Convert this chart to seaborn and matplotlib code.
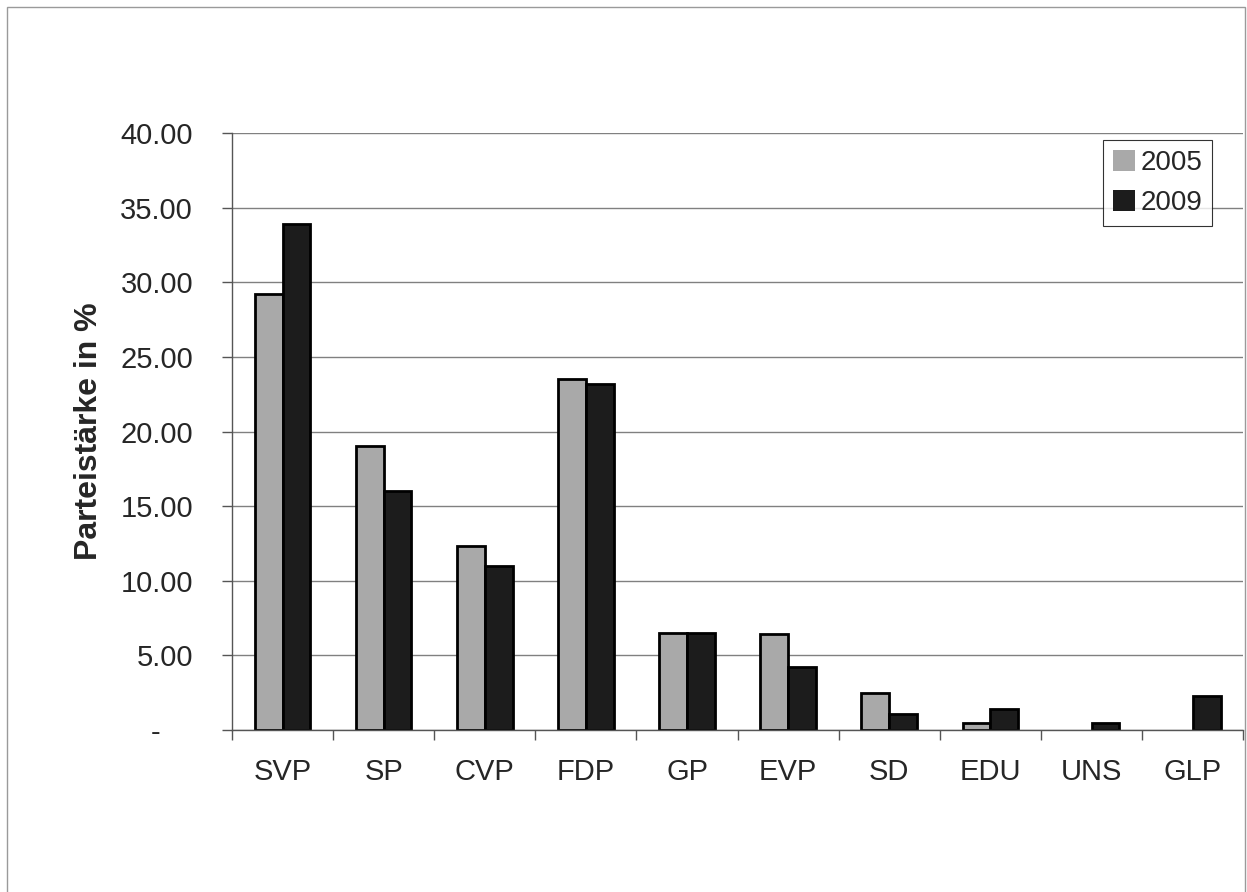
import pandas as pd
import seaborn as sns
import matplotlib.pyplot as plt
from matplotlib.patches import Rectangle
from matplotlib.ticker import FixedLocator, FuncFormatter

# Party strengths (in %)
parties = ["SVP", "SP", "CVP", "FDP", "GP", "EVP", "SD", "EDU", "UNS", "GLP"]
years = ["2005", "2009"]
share_2005 = [29.2, 19.0, 12.3, 23.5, 6.5, 6.4, 2.5, 0.5, 0.0, 0.0]
share_2009 = [33.9, 16.0, 11.0, 23.2, 6.5, 4.2, 1.1, 1.4, 0.5, 2.3]
y_ticks = [0, 5, 10, 15, 20, 25, 30, 35, 40]

df = pd.DataFrame({
    "Partei": parties * 2,
    "Jahr": [years[0]] * len(parties) + [years[1]] * len(parties),
    "Anteil": share_2005 + share_2009,
})

sns.set_style("white")
plt.rcParams["font.family"] = ["Liberation Sans", "DejaVu Sans"]

fig = plt.figure(figsize=(12.47, 8.92), dpi=100)
ax = fig.add_axes([0.186, 0.1816, 0.811, 0.6693])

# thin frame around the whole chart (bottom edge runs off the page)
fig.patches.append(Rectangle((0.006, -0.02), 0.992, 1.012, transform=fig.transFigure,
                             fill=False, edgecolor="#9a9a9a", linewidth=1))

sns.barplot(data=df, x="Partei", y="Anteil", hue="Jahr", hue_order=years,
            palette=["#a9a9a9", "#1c1c1c"], width=0.55, edgecolor="black",
            linewidth=2, saturation=1, ax=ax)

# no outline for empty bars
for bar in ax.patches:
    if bar.get_height() == 0:
        bar.set_linewidth(0)

ax.set_ylim(0, 40)
ax.set_xlim(-0.5, len(parties) - 0.5)
ax.set_yticks(y_ticks)
ax.yaxis.set_major_formatter(FuncFormatter(lambda v, p: "-    " if v == 0 else f"{v:.2f}"))
ax.yaxis.grid(True, color="#808080", linewidth=1)
ax.set_axisbelow(True)

ax.xaxis.set_minor_locator(FixedLocator([i + 0.5 for i in range(-1, len(parties))]))
ax.tick_params(axis="x", which="major", length=0, labelsize=21, pad=20)
ax.tick_params(axis="x", which="minor", length=7, width=1, color="#555555", direction="out")
ax.tick_params(axis="y", length=7, width=1, color="#555555", direction="out", labelsize=21, pad=21)
ax.xaxis.set_ticks_position("bottom")
ax.yaxis.set_ticks_position("left")

for side in ["top", "right"]:
    ax.spines[side].set_visible(False)
for side in ["left", "bottom"]:
    ax.spines[side].set_color("#555555")
    ax.spines[side].set_linewidth(1)

ax.set_xlabel("")
ax.set_ylabel("Parteistärke in %", fontsize=23, fontweight="bold", labelpad=12)

leg = ax.legend(loc="upper right", bbox_to_anchor=(0.969, 0.988), borderaxespad=0,
                fontsize=20, frameon=True, fancybox=False, edgecolor="black",
                handlelength=0.8, handleheight=0.8, handletextpad=0.2,
                borderpad=0.35, labelspacing=0.5)
leg.get_frame().set_linewidth(0.8)

plt.savefig("out.png", dpi=100)
plt.close()
